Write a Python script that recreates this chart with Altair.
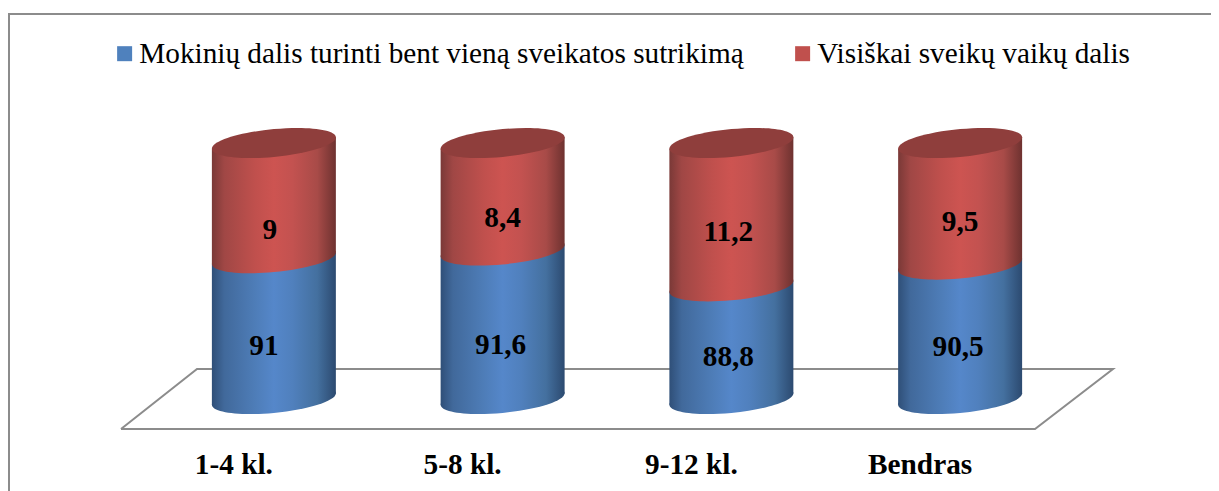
import altair as alt
import pandas as pd

categories = ["1-4 kl.", "5-8 kl.", "9-12 kl.", "Bendras"]
blue_values = [91, 91.6, 88.8, 90.5]
red_values = [9, 8.4, 11.2, 9.5]
blue_labels = ["91", "91,6", "88,8", "90,5"]
red_labels = ["9", "8,4", "11,2", "9,5"]
series_names = ["Mokinių dalis turinti bent vieną sveikatos sutrikimą", "Visiškai sveikų vaikų dalis"]
floor_x = [113, 189, 1105, 1027, 113]
floor_y = [421, 361, 361, 421, 421]
frame_x = [0, 1203]
frame_y = [6, 6]
frame_left_x = [1, 1]
frame_left_y = [6, 483]

W, H = 1203, 483
FONT = "Liberation Serif"
BLUE, RED = "#4f81bd", "#c0504d"
ELLIPSE = ("M1,-0.092C1,0.032 0.552,0.173 0,0.224C-0.552,0.275 -1,0.216 -1,0.092"
           "C-1,-0.032 -0.552,-0.173 0,-0.224C0.552,-0.275 1,-0.216 1,-0.092Z")
SIZE = 124 ** 2
HALF = 0.271   # half a cylinder width, in category units
TILT = 0.445   # rise of the rim from centre to right end, in value units


def grad(stops):
    return alt.LinearGradient(
        gradient="linear", x1=0, x2=1, y1=0, y2=0,
        stops=[alt.GradientStop(offset=o, color=c) for o, c in stops],
    )


blue_grad = grad([(0, "#2f4f78"), (0.1, "#41699b"), (0.35, "#4e7db8"), (0.5, "#5587ca"),
                  (0.65, "#5080bd"), (0.85, "#44709f"), (1, "#2c4a70")])
red_grad = grad([(0, "#7a3937"), (0.1, "#a04745"), (0.35, "#c0504d"), (0.5, "#cd5451"),
                 (0.65, "#c35250"), (0.85, "#a84b48"), (1, "#6e3230")])

df = pd.DataFrame({
    "cat": categories,
    "base": [80] * 4,
    "blue": blue_values,
    "top": [b + r for b, r in zip(blue_values, red_values)],
})

RANGE = [151.5, 1066.5]
xscale = alt.Scale(domain=categories, range=RANGE, paddingInner=0.458, paddingOuter=0.229)
yscale = alt.Scale(domain=[80, 100], range=[391, 135])
X = alt.X("cat:N", sort=categories, scale=xscale, axis=None)


def Y(f):
    return alt.Y(f + ":Q", scale=yscale, axis=None)


legend_df = pd.DataFrame({"cat": categories * 2, "v": [80] * 8, "series": [series_names[0]] * 4 + [series_names[1]] * 4})
legend_layer = alt.Chart(legend_df).mark_bar().encode(
    x=alt.X("cat:N", sort=categories, scale=xscale, axis=alt.Axis(
        title=None, orient="bottom", domain=False, ticks=False, labelAngle=0, labelOffset=-40,
        labelFont=FONT, labelFontSize=29.3, labelFontWeight="bold", labelColor="black", labelPadding=-41,
        grid=False)),
    y=Y("v"),
    y2=alt.Y2("v:Q"),
    color=alt.Color("series:N", scale=alt.Scale(domain=series_names, range=[BLUE, RED]), legend=alt.Legend(
        title=None, orient="none", legendX=102, legendY=31, direction="horizontal", columns=2,
        symbolType="square", symbolSize=225, symbolStrokeWidth=0, labelFont=FONT, labelFontSize=29.25, labelColor="black",
        labelLimit=800, columnPadding=44, labelOffset=0)),
)


def pixel_line(xs, ys, width=2, color="#8c8c8c"):
    d = pd.DataFrame({"px": xs, "py": ys, "i": range(len(xs))})
    return alt.Chart(d).mark_line(color=color, strokeWidth=width, strokeJoin="miter").encode(
        x=alt.X("px:Q", scale=alt.Scale(domain=[0, W], range=[0, W]), axis=None),
        y=alt.Y("py:Q", scale=alt.Scale(domain=[0, H], range=[0, H]), axis=None),
        order="i:Q",
    )


base = alt.Chart(df)


def ell(field, fill):
    return base.mark_point(shape=ELLIPSE, size=SIZE, filled=True, fill=fill, opacity=1, strokeWidth=0).encode(x=X, y=Y(field))


def body(lo, hi, fill):
    rows = []
    for i, row in df.iterrows():
        for side in (-1, 1):
            rows.append({"cat": row["cat"], "pos": i + side * HALF,
                         "lo": row[lo] + side * TILT, "hi": row[hi] + side * TILT})
    return alt.Chart(pd.DataFrame(rows)).mark_area(fill=fill, line=False, interpolate="linear", opacity=1).encode(
        x=alt.X("pos:Q", scale=alt.Scale(domain=[-0.5, 3.5], range=RANGE), axis=None),
        y=Y("lo"), y2=alt.Y2("hi:Q"), detail="cat:N",
    )


nudges_blue = [(-10, 17), (-2, 20), (-3, 14), (-2, 15)]
nudges_red = [(-4, 29), (0, 21), (-3, 17), (0, 18)]


def labels(lo, hi, texts, nudges):
    out = []
    for c, t, (dx, dy) in zip(categories, texts, nudges):
        d = df[df.cat == c].assign(mid=lambda f: (f[lo] + f[hi]) / 2, t=t)
        out.append(alt.Chart(d).mark_text(font=FONT, fontSize=29.3, fontWeight="bold", color="black", dx=dx, dy=dy, baseline="middle").encode(
            x=X, y=Y("mid"), text="t:N"))
    return out


layers = [
    pixel_line(frame_x, frame_y),
    pixel_line(frame_left_x, frame_left_y),
    pixel_line(floor_x, floor_y),
    legend_layer,
    ell("base", blue_grad),
    body("base", "blue", blue_grad),
    ell("blue", red_grad),
    body("blue", "top", red_grad),
    ell("top", "#8f3e3c"),
] + labels("base", "blue", blue_labels, nudges_blue) + labels("blue", "top", red_labels, nudges_red)

chart = alt.layer(*layers).resolve_scale(x="independent", y="independent").properties(
    width=W, height=H, padding=0, autosize=alt.AutoSizeParams(type="none"),
).configure_view(stroke=None)

chart.save("out.html", embed_options={"renderer": "svg", "actions": False})
